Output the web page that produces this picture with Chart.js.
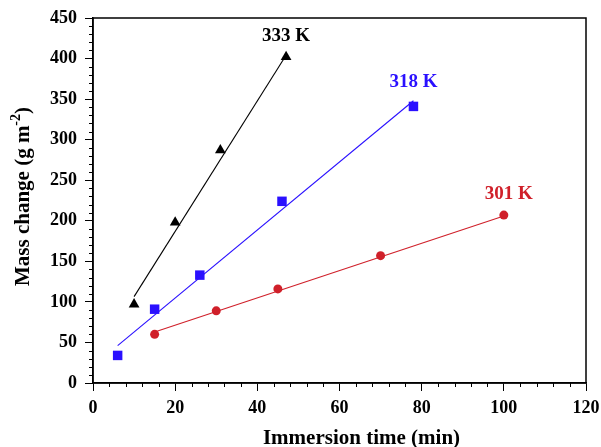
<!DOCTYPE html>
<html>
<head>
<meta charset="utf-8">
<script src="https://cdn.jsdelivr.net/npm/chart.js"></script>
<style>
  html, body { margin: 0; padding: 0; background: #fff; }
  #caixa { width: 601px; height: 447px; }
</style>
</head>
<body>
<div id="caixa"><canvas id="graficoMassa"></canvas></div>
<script>
// * Pontos medidos (tempo em min, ganho de massa em g m-2)
const tempo333 = [10, 20, 31, 47];
const massa333 = [97, 198, 287, 402];
const tempo318 = [6, 15, 26, 46, 78];
const massa318 = [34, 91, 133, 224, 341];
const tempo301 = [15, 30, 45, 70, 100];
const massa301 = [60, 89, 116, 157, 207];

// > Retas ajustadas, extremos
const retaTempo333 = [10, 47];
const retaMassa333 = [106.5, 404];
const retaTempo318 = [6, 78];
const retaMassa318 = [46, 348];
const retaTempo301 = [15, 100];
const retaMassa301 = [63, 206];

const rotulos = ["333 K", "318 K", "301 K"];
const tituloX = "Immersion time (min)";

const PRETO = "#000000";
const AZUL = "#2a10ff";
const VERMELHO = "#d0202a";
const FONTE = "'Liberation Serif', 'Times New Roman', serif";

function pontos(xs, ys) {
    return xs.map((x, i) => ({ x: x, y: ys[i] }));
}

function serie(xs, ys, cor, estilo, raio) {
    return {
        data: pontos(xs, ys),
        showLine: false,
        pointStyle: estilo,
        pointRadius: raio,
        pointBorderWidth: 0,
        backgroundColor: cor,
        borderColor: cor
    };
}

function reta(xs, ys, cor) {
    return {
        data: pontos(xs, ys),
        showLine: true,
        pointRadius: 0,
        borderWidth: 1.1,
        borderColor: cor,
        backgroundColor: cor
    };
}

// ? Moldura, ticks menores, rótulos das séries e títulos dos eixos
const extras = {
    id: 'extras',
    afterDraw(chart) {
        const ctx = chart.ctx;
        const a = chart.chartArea;
        const sx = chart.scales.x;
        const sy = chart.scales.y;
        ctx.save();
        ctx.strokeStyle = '#000';
        ctx.lineWidth = 1.5;
        ctx.strokeRect(a.left, a.top, a.right - a.left, a.bottom - a.top);

        ctx.lineWidth = 1;
        ctx.beginPath();
        for (let v = 10; v < 450; v += 10) {
            if (v % 50 == 0) continue;
            const py = Math.round(sy.getPixelForValue(v)) + 0.5;
            ctx.moveTo(a.left - 4, py);
            ctx.lineTo(a.left, py);
        }
        for (let v = 4; v < 120; v += 4) {
            if (v % 20 == 0) continue;
            const px = Math.round(sx.getPixelForValue(v)) + 0.5;
            ctx.moveTo(px, a.bottom);
            ctx.lineTo(px, a.bottom + 4);
        }
        ctx.stroke();

        // rótulos perto do último ponto de cada série
        ctx.font = "bold 19px " + FONTE;
        ctx.textAlign = 'center';
        ctx.textBaseline = 'middle';
        const fins = [
            [tempo333[tempo333.length - 1], massa333[massa333.length - 1], PRETO, 0, -21],
            [tempo318[tempo318.length - 1], massa318[massa318.length - 1], AZUL, 0, -24],
            [tempo301[tempo301.length - 1], massa301[massa301.length - 1], VERMELHO, 5, -21]
        ];
        for (let i = 0; i < fins.length; i++) {
            ctx.fillStyle = fins[i][2];
            ctx.fillText(rotulos[i],
                sx.getPixelForValue(fins[i][0]) + fins[i][3],
                sy.getPixelForValue(fins[i][1]) + fins[i][4]);
        }

        const grande = "bold 21px " + FONTE;
        const pequeno = "bold 14px " + FONTE;

        // título do eixo x (um pouco à direita do centro, como no original)
        ctx.fillStyle = '#000';
        ctx.font = grande;
        ctx.textAlign = 'center';
        ctx.textBaseline = 'alphabetic';
        ctx.fillText(tituloX, (a.left + a.right) / 2 + 22, 444);

        // título do eixo y com sobrescrito
        ctx.translate(22, (a.top + a.bottom) / 2 - 4);
        ctx.rotate(-Math.PI / 2);
        const p1 = "Mass change (g m", p2 = "-2", p3 = ")";
        ctx.font = grande;
        const w1 = ctx.measureText(p1).width;
        const w3 = ctx.measureText(p3).width;
        ctx.font = pequeno;
        const w2 = ctx.measureText(p2).width;
        let x0 = -(w1 + w2 + w3) / 2;
        ctx.textAlign = 'left';
        ctx.font = grande;
        ctx.fillText(p1, x0, 7);
        ctx.font = pequeno;
        ctx.fillText(p2, x0 + w1, -2);
        ctx.font = grande;
        ctx.fillText(p3, x0 + w1 + w2, 7);
        ctx.restore();
    }
};

const ctx = document.getElementById("graficoMassa").getContext("2d");
const grafico = new Chart(ctx, {
    type: 'scatter',
    data: {
        datasets: [
            reta(retaTempo333, retaMassa333, PRETO),
            reta(retaTempo318, retaMassa318, AZUL),
            reta(retaTempo301, retaMassa301, VERMELHO),
            serie(tempo333, massa333, PRETO, 'triangle', 6.2),
            serie(tempo318, massa318, AZUL, 'rect', 6.7),
            serie(tempo301, massa301, VERMELHO, 'circle', 4.5)
        ]
    },
    options: {
        responsive: true,
        maintainAspectRatio: false,
        animation: false,
        layout: { padding: { top: 18, right: 15, left: 0, bottom: 0 } },
        plugins: {
            legend: { display: false },
            tooltip: { enabled: false }
        },
        scales: {
            x: {
                type: 'linear',
                min: 0,
                max: 120,
                afterFit(scale) {
                    scale.height = 64;
                    scale.paddingLeft = 0;
                    scale.paddingRight = 0;
                },
                border: { display: true, color: '#000', width: 1.5 },
                grid: { drawOnChartArea: false, drawTicks: true, tickLength: 8, color: '#000', lineWidth: 1 },
                ticks: {
                    stepSize: 20,
                    padding: 7,
                    color: '#000',
                    maxRotation: 0,
                    font: { family: FONTE, size: 18, weight: 'bold' }
                },
                title: { display: false }
            },
            y: {
                type: 'linear',
                min: 0,
                max: 450,
                afterFit(scale) {
                    scale.width = 93;
                    scale.paddingTop = 0;
                    scale.paddingBottom = 0;
                },
                border: { display: true, color: '#000', width: 1.5 },
                grid: { drawOnChartArea: false, drawTicks: true, tickLength: 8, color: '#000', lineWidth: 1 },
                ticks: {
                    stepSize: 50,
                    padding: 8,
                    color: '#000',
                    font: { family: FONTE, size: 18, weight: 'bold' }
                },
                title: { display: false }
            }
        }
    },
    plugins: [extras]
});
</script>
</body>
</html>
